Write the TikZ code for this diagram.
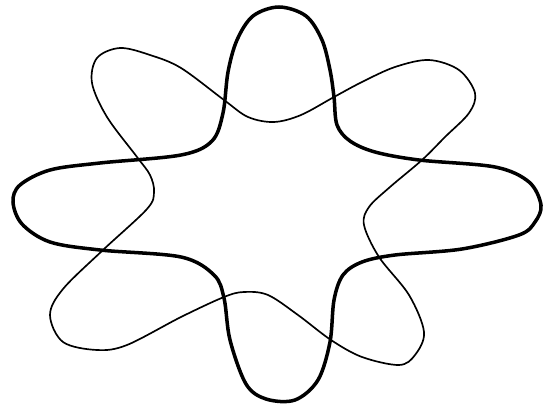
\documentclass[tikz,border=0pt]{standalone}
\begin{document}
\begin{tikzpicture}[x=0.02cm,y=-0.02cm,
  thickcurve/.style={line width=2pt,black,line join=round},
  thincurve/.style={line width=0.95pt,black,line join=round}]
\useasboundingbox (0,0) rectangle (543,405);
% thick four-lobed curve
\draw[thickcurve] plot[smooth cycle,tension=0.55] coordinates {
 (279,7) (306,16) (322,40) (330,70) (334,97) (337,125) (350,141) (375,152) (419,160)
 (495,167) (529,182) (541,205) (535,222) (519,235) (462,249) (395,255) (362,262)
 (343,275) (334,300) (330,342) (318,380) (295,400) (266,399) (246,384) (230,340) (224,298)
 (214,275) (181,257) (100,250) (50,242) (22,224) (13,202) (20,185) (50,170)
 (100,163) (181,155) (212,141) (223,113) (228,72) (237,40) (253,16)};
% thin four-lobed curve
\draw[thincurve] plot[smooth cycle,tension=0.55] coordinates {
 (120,48) (150,55) (181,68) (224,100) (248,117) (274,122) (301,115) (334,97)
 (362,82) (395,67) (429,60) (459,70) (475,93) (469,113) (445,137) (422,160)
 (390,187) (369,207) (364,225) (379,257) (409,295) (424,332) (415,355) (399,365)
 (362,357) (331,340) (298,315) (268,295) (244,292) (224,297) (181,317) (127,345)
 (97,350) (63,342) (50,315) (63,289) (103,250) (147,209) (154,192) (150,175)
 (137,157) (107,117) (92,83) (97,58)};
\end{tikzpicture}
\end{document}
